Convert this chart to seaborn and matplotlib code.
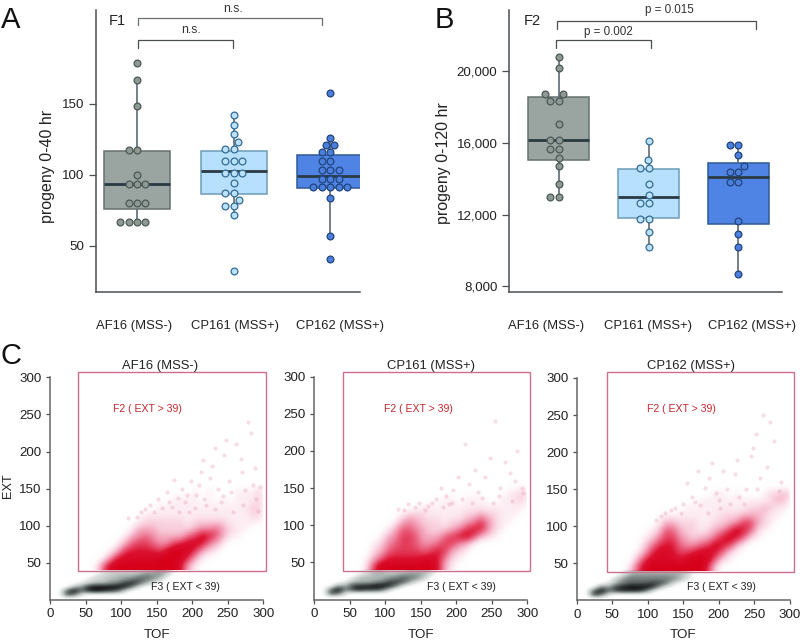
import numpy as np
import pandas as pd
import matplotlib
matplotlib.use("Agg")
import matplotlib.pyplot as plt
from matplotlib.colors import LinearSegmentedColormap
from matplotlib.lines import Line2D
from matplotlib.patches import Rectangle
import seaborn as sns

W, H = 800, 643

strains = ["AF16 (MSS-)", "CP161 (MSS+)", "CP162 (MSS+)"]

# progeny 0-40 hr: single worms
f1_af16 = [178.6, 166.7, 148.8, 117.6, 117.6, 99.7, 93.7, 93.7, 93.7, 80, 80, 80, 67, 67, 67, 67]
f1_cp161 = [142, 135, 129, 123, 118.3, 118.3, 109.6, 109.6, 109.6, 101.4, 101.4, 101.4,
            94.4, 87.6, 87.6, 82.4, 78.2, 78.2, 71.8, 32.4]
f1_cp162 = [157.7, 126.3, 120.9, 120.9, 116, 116, 109.6, 109.6, 103.3, 103.3, 103.3,
            97.2, 97.2, 97.2, 91.3, 91.3, 91.3, 91.3, 91.3, 83.6, 56.8, 41]
# low whisker, q1, median, q3, high whisker
f1_boxes = [[67, 76, 93.7, 117, 166.7], [71.8, 86.4, 102.8, 117, 142], [56.8, 90.6, 99.5, 113.8, 126.3]]

# progeny 0-120 hr
f2_af16 = [20760, 20167, 18717, 18717, 18346, 18346, 17026, 16171, 16171, 15669, 15669,
           15167, 14700, 13680, 12955, 12955]
f2_cp161 = [16115, 15056, 14610, 14610, 13717, 13104, 12621, 12621, 11729, 11729, 11022, 10167]
f2_cp162 = [15874, 15874, 15316, 14721, 14387, 14387, 13829, 13829, 11654, 10892, 10204, 8662]
f2_boxes = [[12955, 15037, 16171, 18530, 20760], [10167, 11822, 12955, 14554, 16115],
            [8662, 11468, 14108, 14870, 15874]]

# flow cytometer clouds, density read by eye per 10x10 cell
red_tof = [45, 55, 65, 75, 85, 95, 105, 115, 125, 135, 145, 155, 165, 175, 185, 195, 205, 215, 225,
           235, 245, 255, 265, 275, 285, 295]
red_ext = [45, 55, 65, 75, 85, 95, 105, 115, 125, 135, 145]
red_af16 = [
    [0, 0, 1, 5, 8, 9, 9, 9, 9, 9, 9, 9, 9, 9, 7, 3, 1, 0, 0, 0, 0, 0, 0, 0, 0, 0],
    [0, 0, 0, 1, 4, 7, 8, 8, 8, 8, 8, 9, 9, 9, 8, 6, 3, 1, 0, 0, 0, 0, 0, 0, 0, 0],
    [0, 0, 0, 0, 1, 3, 6, 7, 7, 7, 7, 6, 8, 9, 9, 8, 6, 3, 2, 1, 0, 0, 0, 0, 0, 0],
    [0, 0, 0, 0, 0, 1, 3, 5, 6, 6, 5, 4, 4, 6, 7, 8, 8, 7, 4, 3, 1, 0, 0, 0, 0, 0],
    [0, 0, 0, 0, 0, 0, 1, 3, 4, 5, 4, 3, 3, 3, 3, 5, 6, 8, 7, 5, 3, 1, 1, 0, 0, 0],
    [0, 0, 0, 0, 0, 0, 0, 1, 3, 3, 3, 2, 2, 2, 2, 2, 3, 4, 4, 5, 3, 2, 1, 1, 0, 0],
    [0, 0, 0, 0, 0, 0, 0, 0, 1, 2, 2, 2, 2, 2, 2, 1, 2, 2, 2, 2, 2, 1, 1, 1, 1, 1],
    [0, 0, 0, 0, 0, 0, 0, 0, 0, 1, 1, 1, 1, 1, 1, 1, 1, 1, 1, 1, 1, 1, 1, 1, 2, 2],
    [0, 0, 0, 0, 0, 0, 0, 0, 0, 0, 0, 1, 1, 1, 1, 1, 1, 1, 1, 1, 1, 1, 1, 1, 2, 2],
    [0, 0, 0, 0, 0, 0, 0, 0, 0, 0, 0, 0, 0, 1, 1, 1, 1, 0, 1, 0, 1, 0, 1, 1, 1, 2],
    [0, 0, 0, 0, 0, 0, 0, 0, 0, 0, 0, 0, 0, 0, 0, 0, 1, 0, 1, 0, 0, 0, 1, 1, 1, 2],
]
red_cp161 = [
    [0, 0, 0, 2, 6, 9, 9, 9, 9, 9, 9, 9, 9, 7, 3, 1, 0, 0, 0, 0, 0, 0, 0, 0, 0, 0],
    [0, 0, 0, 1, 3, 5, 7, 7, 7, 7, 7, 8, 8, 7, 4, 2, 1, 0, 0, 0, 0, 0, 0, 0, 0, 0],
    [0, 0, 0, 0, 2, 3, 5, 6, 6, 6, 6, 5, 6, 7, 6, 3, 2, 1, 0, 0, 0, 0, 0, 0, 0, 0],
    [0, 0, 0, 0, 1, 2, 4, 5, 6, 6, 5, 4, 4, 5, 6, 6, 4, 3, 1, 0, 0, 0, 0, 0, 0, 0],
    [0, 0, 0, 0, 0, 1, 3, 4, 6, 6, 5, 3, 3, 3, 5, 6, 7, 8, 6, 3, 2, 1, 0, 0, 0, 0],
    [0, 0, 0, 0, 0, 0, 1, 3, 5, 5, 4, 3, 2, 2, 2, 3, 4, 6, 7, 7, 4, 2, 1, 0, 0, 0],
    [0, 0, 0, 0, 0, 0, 0, 1, 3, 4, 3, 2, 2, 2, 1, 2, 2, 3, 4, 6, 4, 2, 1, 1, 0, 0],
    [0, 0, 0, 0, 0, 0, 0, 0, 1, 2, 2, 2, 1, 1, 1, 1, 1, 2, 2, 3, 2, 2, 1, 1, 1, 0],
    [0, 0, 0, 0, 0, 0, 0, 0, 0, 0, 0, 1, 1, 1, 1, 1, 1, 1, 1, 1, 1, 1, 1, 1, 1, 1],
    [0, 0, 0, 0, 0, 0, 0, 0, 0, 0, 0, 0, 0, 0, 1, 1, 0, 1, 1, 1, 0, 0, 1, 1, 2, 2],
    [0, 0, 0, 0, 0, 0, 0, 0, 0, 0, 0, 0, 0, 0, 0, 0, 0, 0, 0, 0, 0, 0, 0, 1, 1, 2],
]
red_cp162 = [
    [0, 0, 0, 2, 5, 8, 9, 9, 9, 9, 9, 9, 9, 9, 6, 2, 0, 0, 0, 0, 0, 0, 0, 0, 0, 0],
    [0, 0, 0, 0, 3, 6, 8, 8, 8, 8, 7, 8, 9, 9, 8, 5, 2, 1, 0, 0, 0, 0, 0, 0, 0, 0],
    [0, 0, 0, 0, 1, 3, 6, 8, 8, 7, 6, 6, 7, 8, 8, 7, 5, 2, 1, 0, 0, 0, 0, 0, 0, 0],
    [0, 0, 0, 0, 0, 2, 4, 6, 7, 7, 5, 4, 4, 5, 6, 8, 7, 6, 3, 1, 0, 0, 0, 0, 0, 0],
    [0, 0, 0, 0, 0, 1, 2, 4, 6, 6, 4, 3, 2, 3, 3, 5, 7, 8, 7, 5, 2, 1, 0, 0, 0, 0],
    [0, 0, 0, 0, 0, 0, 1, 2, 5, 5, 3, 2, 2, 1, 2, 3, 4, 6, 8, 7, 5, 2, 1, 0, 0, 0],
    [0, 0, 0, 0, 0, 0, 0, 1, 3, 3, 2, 2, 2, 1, 1, 2, 2, 3, 4, 6, 6, 3, 2, 1, 0, 0],
    [0, 0, 0, 0, 0, 0, 0, 0, 1, 1, 1, 1, 1, 1, 1, 1, 2, 2, 2, 3, 3, 3, 2, 1, 1, 0],
    [0, 0, 0, 0, 0, 0, 0, 0, 0, 0, 0, 1, 1, 1, 1, 1, 1, 1, 1, 1, 2, 2, 3, 2, 1, 1],
    [0, 0, 0, 0, 0, 0, 0, 0, 0, 0, 0, 0, 0, 1, 1, 1, 1, 1, 1, 1, 1, 1, 1, 2, 3, 2],
    [0, 0, 0, 0, 0, 0, 0, 0, 0, 0, 0, 0, 0, 0, 0, 1, 1, 0, 1, 0, 0, 0, 1, 2, 2, 3],
]

gray_tof = [25, 35, 45, 55, 65, 75, 85, 95, 105, 115, 125, 135, 145, 155, 165]
gray_ext = [8, 13, 18, 23, 28, 33, 38]
gray_af16 = [
    [7, 5, 1, 0, 0, 0, 0, 0, 0, 0, 0, 0, 0, 0, 0],
    [6, 9, 5, 8, 9, 8, 7, 6, 2, 0, 0, 0, 0, 0, 0],
    [0, 3, 4, 8, 9, 9, 9, 9, 8, 5, 1, 0, 0, 0, 0],
    [0, 0, 1, 2, 3, 3, 4, 5, 7, 8, 6, 3, 1, 0, 0],
    [0, 0, 0, 1, 2, 2, 3, 3, 4, 5, 6, 5, 4, 2, 0],
    [0, 0, 0, 0, 1, 2, 2, 3, 3, 3, 4, 5, 4, 4, 1],
    [0, 0, 0, 0, 0, 1, 2, 2, 2, 2, 2, 3, 3, 4, 3],
]
gray_cp161 = [
    [7, 5, 1, 0, 0, 0, 0, 0, 0, 0, 0, 0, 0, 0, 0],
    [6, 9, 4, 7, 8, 7, 7, 6, 2, 0, 0, 0, 0, 0, 0],
    [0, 4, 3, 7, 8, 8, 9, 9, 8, 5, 1, 0, 0, 0, 0],
    [0, 0, 1, 3, 3, 3, 4, 5, 7, 7, 6, 3, 1, 0, 0],
    [0, 0, 0, 1, 3, 3, 3, 3, 4, 5, 6, 5, 4, 2, 0],
    [0, 0, 0, 0, 1, 2, 3, 3, 3, 3, 4, 4, 4, 3, 1],
    [0, 0, 0, 0, 0, 1, 3, 3, 2, 2, 2, 3, 3, 3, 2],
]
gray_cp162 = [
    [8, 5, 1, 0, 0, 0, 0, 0, 0, 0, 0, 0, 0, 0, 0],
    [6, 9, 5, 7, 8, 8, 8, 6, 2, 0, 0, 0, 0, 0, 0],
    [0, 5, 3, 7, 8, 9, 9, 9, 8, 4, 1, 0, 0, 0, 0],
    [0, 0, 1, 3, 5, 6, 6, 6, 7, 7, 5, 2, 0, 0, 0],
    [0, 0, 0, 2, 4, 5, 5, 5, 5, 5, 5, 4, 3, 1, 0],
    [0, 0, 0, 0, 2, 4, 4, 4, 4, 4, 4, 4, 3, 2, 0],
    [0, 0, 0, 0, 0, 2, 3, 3, 3, 3, 3, 3, 3, 2, 0],
]

# the sparse pale worms above the main cloud
sparse_af16_x = [110, 128, 140, 152, 165, 172, 185, 190, 198, 205, 212, 220, 228, 236, 245, 252, 262, 270, 278,
                 285, 292, 180, 195, 210, 225, 240, 255, 272, 288, 215, 248, 268, 282, 175, 232,
                 122, 134, 146, 158, 168, 182, 192, 204, 216, 232, 244, 258, 274, 290, 296]
sparse_af16_y = [110, 118, 128, 136, 145, 125, 150, 132, 160, 142, 172, 128, 180, 150, 195, 160, 210, 172, 240,
                 155, 120, 138, 118, 155, 165, 132, 145, 128, 178, 188, 215, 190, 225, 162, 205,
                 112, 122, 118, 124, 132, 118, 142, 124, 136, 122, 140, 118, 148, 136, 152]
sparse_cp161_x = [118, 132, 148, 160, 172, 185, 196, 208, 218, 230, 240, 252, 262, 275, 286, 292, 178, 202, 226,
                  248, 268, 282, 212, 255, 190, 126, 142, 156, 166, 182, 194, 222, 236, 260, 278, 294]
sparse_cp161_y = [122, 128, 130, 126, 135, 140, 148, 135, 155, 145, 165, 130, 150, 170, 200, 150, 150, 165, 175,
                  190, 185, 160, 210, 240, 128, 120, 124, 120, 130, 124, 130, 130, 136, 140, 132, 144]
sparse_cp162_x = [112, 124, 138, 150, 162, 174, 186, 196, 206, 216, 226, 238, 248, 258, 268, 278, 288, 170, 190,
                  212, 235, 252, 272, 180, 200, 222, 245, 262, 155, 118, 132, 146, 166, 184, 202, 228, 254, 284]
sparse_cp162_y = [108, 118, 124, 130, 140, 128, 165, 145, 175, 130, 190, 150, 205, 165, 180, 215, 160, 175, 185,
                  150, 130, 225, 240, 152, 135, 170, 195, 250, 158, 114, 122, 118, 132, 118, 124, 140, 150, 148]

sns.set_theme(style="ticks")
plt.rcParams["font.family"] = ["Liberation Sans", "DejaVu Sans"]
plt.rcParams["font.size"] = 9

fig = plt.figure(figsize=(W / 100, H / 100), dpi=100)

box_colors = ["#9aa4a1", "#b6e0fd", "#4f84e4"]
box_edges = ["#66716f", "#6c9bb8", "#2c5a96"]
dot_colors = ["#8f9994", "#bae2fb", "#4a7fdc"]
dot_edges = ["#4a5856", "#356b94", "#22447e"]
dark = "#4a4f52"


def add_axes(left, top, right, bottom):
    return fig.add_axes([left / W, 1 - bottom / H, (right - left) / W, (bottom - top) / H])


def px_line(xs, ys, color=dark, lw=0.9):
    fig.add_artist(Line2D([x / W for x in xs], [1 - y / H for y in ys], color=color, lw=lw))


def px_text(x, y, s, **kw):
    kw.setdefault("ha", "center")
    kw.setdefault("va", "center")
    fig.text(x / W, 1 - y / H, s, **kw)


def box_panel(ax, points, boxes, xlim, ylim, yticks, ylabels, ylabel, xticks):
    box_df = pd.DataFrame({
        "strain": [s for s, b in zip(strains, boxes) for _ in b],
        "n": [v for b in boxes for v in b],
    })
    dot_df = pd.DataFrame({
        "strain": [s for s, p in zip(strains, points) for _ in p],
        "n": [v for p in points for v in p],
    })
    sns.boxplot(data=box_df, x="strain", y="n", hue="strain", order=strains, hue_order=strains,
                palette=box_colors, saturation=1, width=0.684, whis=(0, 100), showcaps=False, showfliers=False,
                dodge=False, legend=False, linewidth=1.1,
                medianprops={"color": "#2a3a42", "linewidth": 2.0},
                whiskerprops={"color": "#5c6a72", "linewidth": 1.2}, ax=ax)
    for patch, edge in zip(ax.patches, box_edges):
        patch.set_edgecolor(edge)
    for i, strain in enumerate(strains):
        sns.swarmplot(data=dot_df[dot_df["strain"] == strain], x="strain", y="n", order=strains,
                      color=dot_colors[i], edgecolor=dot_edges[i], linewidth=0.9, size=4.9, ax=ax)
    ax.set_xlim(*xlim)
    ax.set_ylim(*ylim)
    ax.set_yticks(yticks, ylabels)
    ax.set_xticks(xticks, strains)
    ax.set_xlabel("")
    ax.set_ylabel(ylabel, fontsize=11.5, color="#222222")
    ax.tick_params(axis="x", length=0, pad=20, labelsize=9.4, labelcolor="#222222")
    ax.tick_params(axis="y", length=5, width=0.9, color=dark, labelsize=9.6, labelcolor="#222222")
    sns.despine(ax=ax)
    for side in ["left", "bottom"]:
        ax.spines[side].set_color(dark)
        ax.spines[side].set_linewidth(1.1)


ax_a = add_axes(96, 10, 360, 292)
box_panel(ax_a, [f1_af16, f1_cp161, f1_cp162], f1_boxes, (-0.425, 2.31), (17.6, 216.2),
          [50, 100, 150], ["50", "100", "150"], "progeny 0-40 hr", [-0.03, 1.02, 2.1])
ax_a.yaxis.set_label_coords((55 - 96) / 264, 0.447)

ax_b = add_axes(509.3, 10, 781.7, 292)
box_panel(ax_b, [f2_af16, f2_cp161, f2_cp162], f2_boxes, (-0.55, 2.483), (7681, 23400),
          [8000, 12000, 16000, 20000], ["8,000", "12,000", "16,000", "20,000"], "progeny 0-120 hr",
          [-0.14, 0.994, 2.15])
ax_b.yaxis.set_label_coords((451 - 509.3) / 272.4, 0.457)

# significance brackets
px_line([138.3, 138.3, 321.7, 321.7], [25.3, 17.7, 17.7, 25.3], color="#6a6f72")
px_line([138.3, 138.3, 233.3, 233.3], [47.7, 40, 40, 47.7])
px_line([556.7, 556.7, 756, 756], [28.7, 20.7, 20.7, 28.7])
px_line([556, 556, 650.7, 650.7], [48, 40, 40, 48])
px_text(233, 8.7, "n.s.", fontsize=8.8, color="#333333")
px_text(191, 30, "n.s.", fontsize=8.8, color="#333333")
px_text(669, 10, "p = 0.015", fontsize=8.4, color="#333333")
px_text(608.3, 32.3, "p = 0.002", fontsize=8.4, color="#333333")
px_text(117, 21, "F1", fontsize=10.5, color="#222222")
px_text(532.7, 21, "F2", fontsize=10.5, color="#222222")
px_text(11, 20, "A", fontsize=21, color="#111111")
px_text(444, 20, "B", fontsize=21, color="#111111")
px_text(11, 356, "C", fontsize=21, color="#111111")

red_cmap = LinearSegmentedColormap.from_list("cloud_red", [
    (0, (1, 0.85, 0.9, 0)), (1 / 9, (0.96, 0.64, 0.76, 0.2)), (3 / 9, (0.93, 0.42, 0.57, 0.55)),
    (5 / 9, (0.9, 0.24, 0.38, 0.82)), (7 / 9, (0.86, 0.07, 0.19, 1)), (1, (0.84, 0.0, 0.1, 1))])
gray_cmap = LinearSegmentedColormap.from_list("cloud_gray", [
    (0, (0.9, 0.92, 0.91, 0)), (1 / 9, (0.78, 0.81, 0.8, 0.5)), (4 / 9, (0.52, 0.56, 0.55, 0.95)),
    (7 / 9, (0.22, 0.24, 0.24, 1)), (1, (0.07, 0.07, 0.07, 1))])


def cloud(ax, tof, ext, grid, cmap, low_edge, high_edge):
    # fade to nothing on the open sides, the gate keeps its hard edge
    cells = np.array(grid, dtype=float)
    dx = tof[1] - tof[0]
    dy = ext[1] - ext[0]
    below = 1 if low_edge else 0
    above = 1 if high_edge else 0
    cells = np.pad(cells, ((below, above), (1, 1)))
    ax.imshow(cells, origin="lower", aspect="auto", cmap=cmap, vmin=0, vmax=9, interpolation="bicubic",
              extent=(tof[0] - 1.5 * dx, tof[-1] + 1.5 * dx,
                      ext[0] - (below + 0.5) * dy, ext[-1] + (above + 0.5) * dy))


def flow_panel(left, right, top, bottom, title, title_x, reds, grays, sx, sy, rect_px, f2_xy, f3_xy, show_ylabel):
    ax = add_axes(left, top, right, bottom)
    sns.scatterplot(x=sx, y=sy, color="#e58aa5", alpha=0.28, s=9, linewidth=0, ax=ax)
    cloud(ax, gray_tof, gray_ext, grays, gray_cmap, True, False)
    cloud(ax, red_tof, red_ext, reds, red_cmap, False, True)
    ax.set_xlim(0, 300)
    ax.set_ylim(0, 300)
    ticks = [0, 50, 100, 150, 200, 250, 300]
    ax.set_xticks(ticks, [str(t) for t in ticks])
    ax.set_yticks(ticks[1:], [str(t) for t in ticks[1:]])
    ax.set_xlabel("")
    ax.set_ylabel("")
    ax.tick_params(length=3, width=0.9, color=dark, labelsize=9.6, labelcolor="#222222", pad=3)
    sns.despine(ax=ax)
    for side in ["left", "bottom"]:
        ax.spines[side].set_color("#666666")
        ax.spines[side].set_linewidth(1.1)
    x0, y0, x1, y1 = rect_px
    fig.add_artist(Rectangle((x0 / W, 1 - y1 / H), (x1 - x0) / W, (y1 - y0) / H, fill=False,
                             edgecolor="#c9708a", linewidth=1.0, transform=fig.transFigure))
    px_text(title_x, 366, title, fontsize=9.4, color="#222222")
    px_text((left + right) / 2, 635, "TOF", fontsize=9.6, color="#222222")
    px_text(f2_xy[0], f2_xy[1], "F2 ( EXT > 39)", fontsize=7.6, color="#c4282e")
    px_text(f3_xy[0], f3_xy[1], "F3 ( EXT < 39)", fontsize=7.6, color="#222222")
    if show_ylabel:
        px_text(8, 486, "EXT", fontsize=9.2, rotation=90, color="#222222")


flow_panel(50, 263.3, 377.3, 600, strains[0], 160, red_af16, gray_af16, sparse_af16_x, sparse_af16_y,
           (78.3, 372.3, 265.7, 570.7), (147, 409), (185, 587), True)
flow_panel(314, 527.3, 376.7, 599.5, strains[1], 431, red_cp161, gray_cp161, sparse_cp161_x, sparse_cp161_y,
           (342.7, 372.3, 530.3, 570.7), (418, 409), (461, 587), False)
flow_panel(576.7, 790, 378, 600.3, strains[2], 691, red_cp162, gray_cp162, sparse_cp162_x, sparse_cp162_y,
           (606.7, 372.3, 794.3, 571.7), (681, 409), (721, 587), False)

fig.savefig("out.png", dpi=100)
